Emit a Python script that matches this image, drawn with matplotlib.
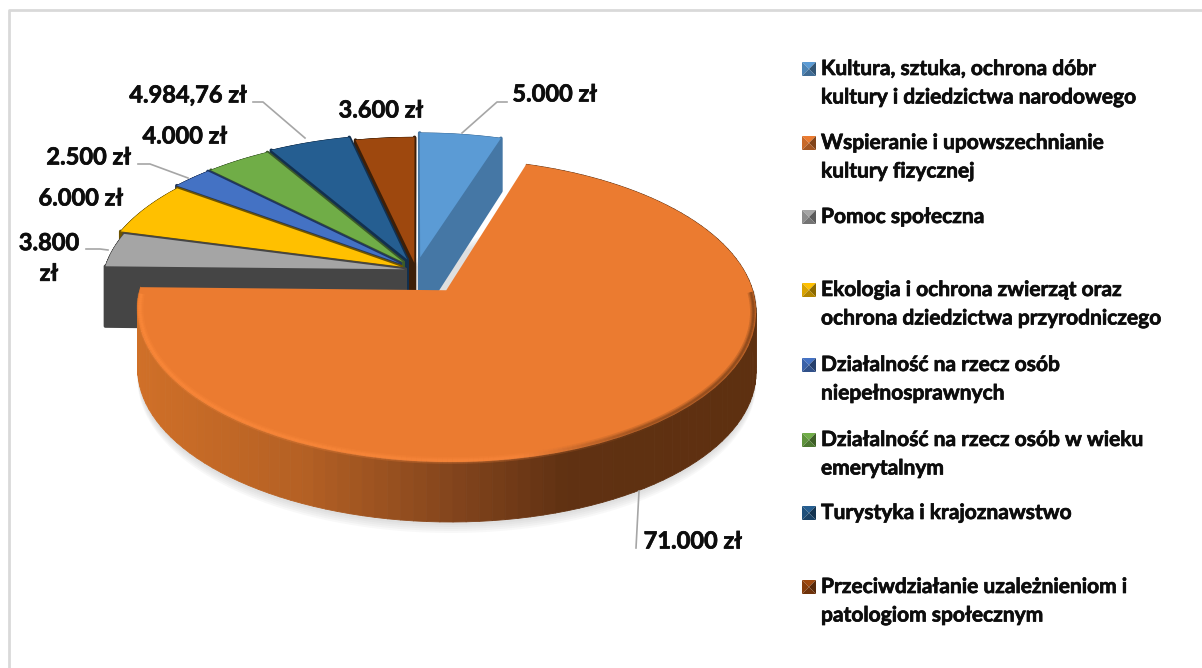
import numpy as np
import matplotlib
matplotlib.use('Agg')
import matplotlib.pyplot as plt
import matplotlib.patheffects as pe
from matplotlib.collections import PolyCollection, LineCollection
from matplotlib.transforms import Transform

values = [5000, 71000, 3800, 6000, 2500, 4000, 4984.76, 3600]
value_labels = ['5.000 zł', '71.000 zł', '3.800\nzł', '6.000 zł', '2.500 zł',
                '4.000 zł', '4.984,76 zł', '3.600 zł']
categories = [
    'Kultura, sztuka, ochrona dóbr\nkultury i dziedzictwa narodowego',
    'Wspieranie i upowszechnianie\nkultury fizycznej',
    'Pomoc społeczna',
    'Ekologia i ochrona zwierząt oraz\nochrona dziedzictwa przyrodniczego',
    'Działalność na rzecz osób\nniepełnosprawnych',
    'Działalność na rzecz osób w wieku\nemerytalnym',
    'Turystyka i krajoznawstwo',
    'Przeciwdziałanie uzależnieniom i\npatologiom społecznym',
]
colors = ['#5b9bd5', '#eb7b30', '#a5a5a5', '#ffc000', '#4472c4', '#70ad47', '#255e91', '#9e480e']
wall_colors = ['#4577a5', '#5e3010', '#454545', '#6e5400', '#1f3560', '#3c5a2a', '#12304f', '#3d1f08']
explode = [0.09, 0.17, 0.036, 0.055, 0.07, 0.07, 0.08, 0.05]

# pixel layout of the "3d" projection
XC, YC, A, B, K, DEPTH = 416, 270, 301, 143.7, 0.13, 60


def project(x, y):
    w = 1 + K * y
    return XC + A * x / w, YC - B * y / w


class Perspective(Transform):
    input_dims = 2
    output_dims = 2

    def transform_non_affine(self, values):
        px, py = project(values[:, 0], values[:, 1])
        return np.column_stack([px, py])


def drop(y):
    # wall height gets a bit smaller towards the back
    return DEPTH * np.minimum(1, 1 / (1 + K * y))


def arc_points(w, n=120):
    t = np.radians(np.linspace(w.theta1, w.theta2, n))
    return w.center[0] + w.r * np.cos(t), w.center[1] + w.r * np.sin(t)


def orange_shade(px):
    return np.array([np.interp(px, [135, 300, 450, 560, 760], c)
                     for c in ([208, 180, 130, 96, 94], [112, 96, 68, 49, 48], [40, 36, 28, 18, 16])]).T / 255


fig = plt.figure(figsize=(12.02, 6.68), dpi=100)
ax = fig.add_axes([0, 0, 1, 1])
wedges, _ = ax.pie(values, explode=explode, startangle=90, counterclock=False, colors=colors,
                   wedgeprops={'linewidth': 0})
ax.set_aspect('auto')
ax.set_xlim(0, 1202)
ax.set_ylim(668, 0)
ax.axis('off')
persp = Perspective() + ax.transData

# frame
ax.plot([9, 9, 1202], [668, 10, 10], color='#d9d9d9', lw=2, zorder=0)

# soft shadow below the big slice
big = wedges[1]
xs, ys = arc_points(big, 200)
px, py = project(xs, ys)
for off in [3, 5, 7, 9, 11]:
    ax.fill(px, py + drop(ys) + off, color='#808080', alpha=0.05, lw=0, zorder=1)

# light strip between the blue wall and the big slice
bx, by = arc_points(wedges[0])
bpx, bpy = project(bx, by)
cpx, cpy = project(np.array([big.center[0]]), np.array([big.center[1]]))
ax.fill([cpx[0], px[0], bpx[-1] - 4, cpx[0] - 30], [cpy[0], py[0], bpy[-1] + 60, cpy[0]],
        color='#e8e8e8', lw=0, zorder=1.5)

# far slices first so nearer ones overlap them
order = [7, 0, 6, 5, 4, 3, 2, 1]
for pos, i in enumerate(order):
    w = wedges[i]
    zo = 2 + pos
    xs, ys = arc_points(w)
    px, py = project(xs, ys)
    d = drop(ys)
    # outer rim
    quads = [[(px[j], py[j]), (px[j + 1], py[j + 1]), (px[j + 1], py[j + 1] + d[j + 1]), (px[j], py[j] + d[j])]
             for j in range(len(px) - 1)]
    rim = orange_shade(px[:-1]) if i == 1 else wall_colors[i]
    ax.add_collection(PolyCollection(quads, facecolors=rim, edgecolors=rim, linewidths=0.6, zorder=zo))
    # cut faces, the big slice does not show any
    if i != 1:
        cx, cy = project(np.array([w.center[0]]), np.array([w.center[1]]))
        cd = drop(np.array([w.center[1]]))
        for e in [0, -1]:
            ax.fill([cx[0], px[e], px[e], cx[0]], [cy[0], py[e], py[e] + d[e], cy[0] + cd[0]],
                    color=wall_colors[i], ec=wall_colors[i], lw=2.5, joinstyle='round', zorder=zo + 0.1)
    w.set_transform(persp)
    w.set_zorder(zo + 0.2)
    w.set_clip_on(False)

# bevel along the front edge of the big slice
xs, ys = arc_points(big, 300)
cen = np.array(big.center)
for r, lw, al in [(0.992, 5, 0.22), (0.992, 3, 0.3), (0.992, 1.5, 0.4)]:
    px, py = project(cen[0] + (xs - cen[0]) * r, cen[1] + (ys - cen[1]) * r)
    segs = [[(px[j], py[j]), (px[j + 1], py[j + 1])] for j in range(len(px) - 1)]
    mid = (px[:-1] + px[1:]) / 2
    front = py[:-1] > 293
    cols = np.zeros((len(segs), 4))
    cols[:, 0] = np.interp(mid, [135, 520, 640, 760], [255, 250, 125, 100]) / 255
    cols[:, 1] = np.interp(mid, [135, 520, 640, 760], [140, 135, 65, 52]) / 255
    cols[:, 2] = np.interp(mid, [135, 520, 640, 760], [60, 60, 25, 20]) / 255
    cols[:, 3] = al * front
    ax.add_collection(LineCollection(segs, colors=cols, linewidths=lw, zorder=12))

font = {'family': 'Lato', 'weight': 'bold', 'color': '#0d0d0d',
        'path_effects': [pe.withStroke(linewidth=0.5, foreground='#0d0d0d')]}
label_pos = [(555, 94), (693, 541), (49, 258), (81, 198), (89, 157), (185, 136), (188, 95), (381, 110)]
for lab, (x, y) in zip(value_labels, label_pos):
    ax.text(x, y, lab, ha='center', va='center', fontsize=17, linespacing=1.4, zorder=20, **font)

# leader lines
leaders = [
    ([462, 497, 507], [133, 102, 102]),
    ([639, 636], [491, 548]),
    ([108, 100, 86], [250, 249, 249]),
    ([188, 150, 138], [178, 164, 164]),
    ([305, 263, 253], [138, 102, 102]),
]
for lx, ly in leaders:
    ax.plot(lx, ly, color='#a6a6a6', lw=1.2, zorder=15)

# legend
legend_y = [69, 143, 217, 290, 365, 440, 513, 587]
for cat, col, y in zip(categories, colors, legend_y):
    for line, txt in enumerate(cat.split('\n')):
        ax.text(821, y + line * 28.5, txt, ha='left', va='center', fontsize=15.1, zorder=20, **font)
    x0, x1, y0, y1, xm, ym = 802, 816, y - 7, y + 7, 809, y
    base = np.array(matplotlib.colors.to_rgb(col))
    ax.fill([x0, x1, xm], [y0, y0, ym], color=base, lw=0, zorder=20)
    ax.fill([x0, xm, x0], [y0, ym, y1], color=base * 0.85, lw=0, zorder=20)
    ax.fill([x1, xm, x1], [y0, ym, y1], color=base * 0.55, lw=0, zorder=20)
    ax.fill([x0, x1, xm], [y1, y1, ym], color=base * 0.7, lw=0, zorder=20)

fig.savefig('out.png', dpi=100)
